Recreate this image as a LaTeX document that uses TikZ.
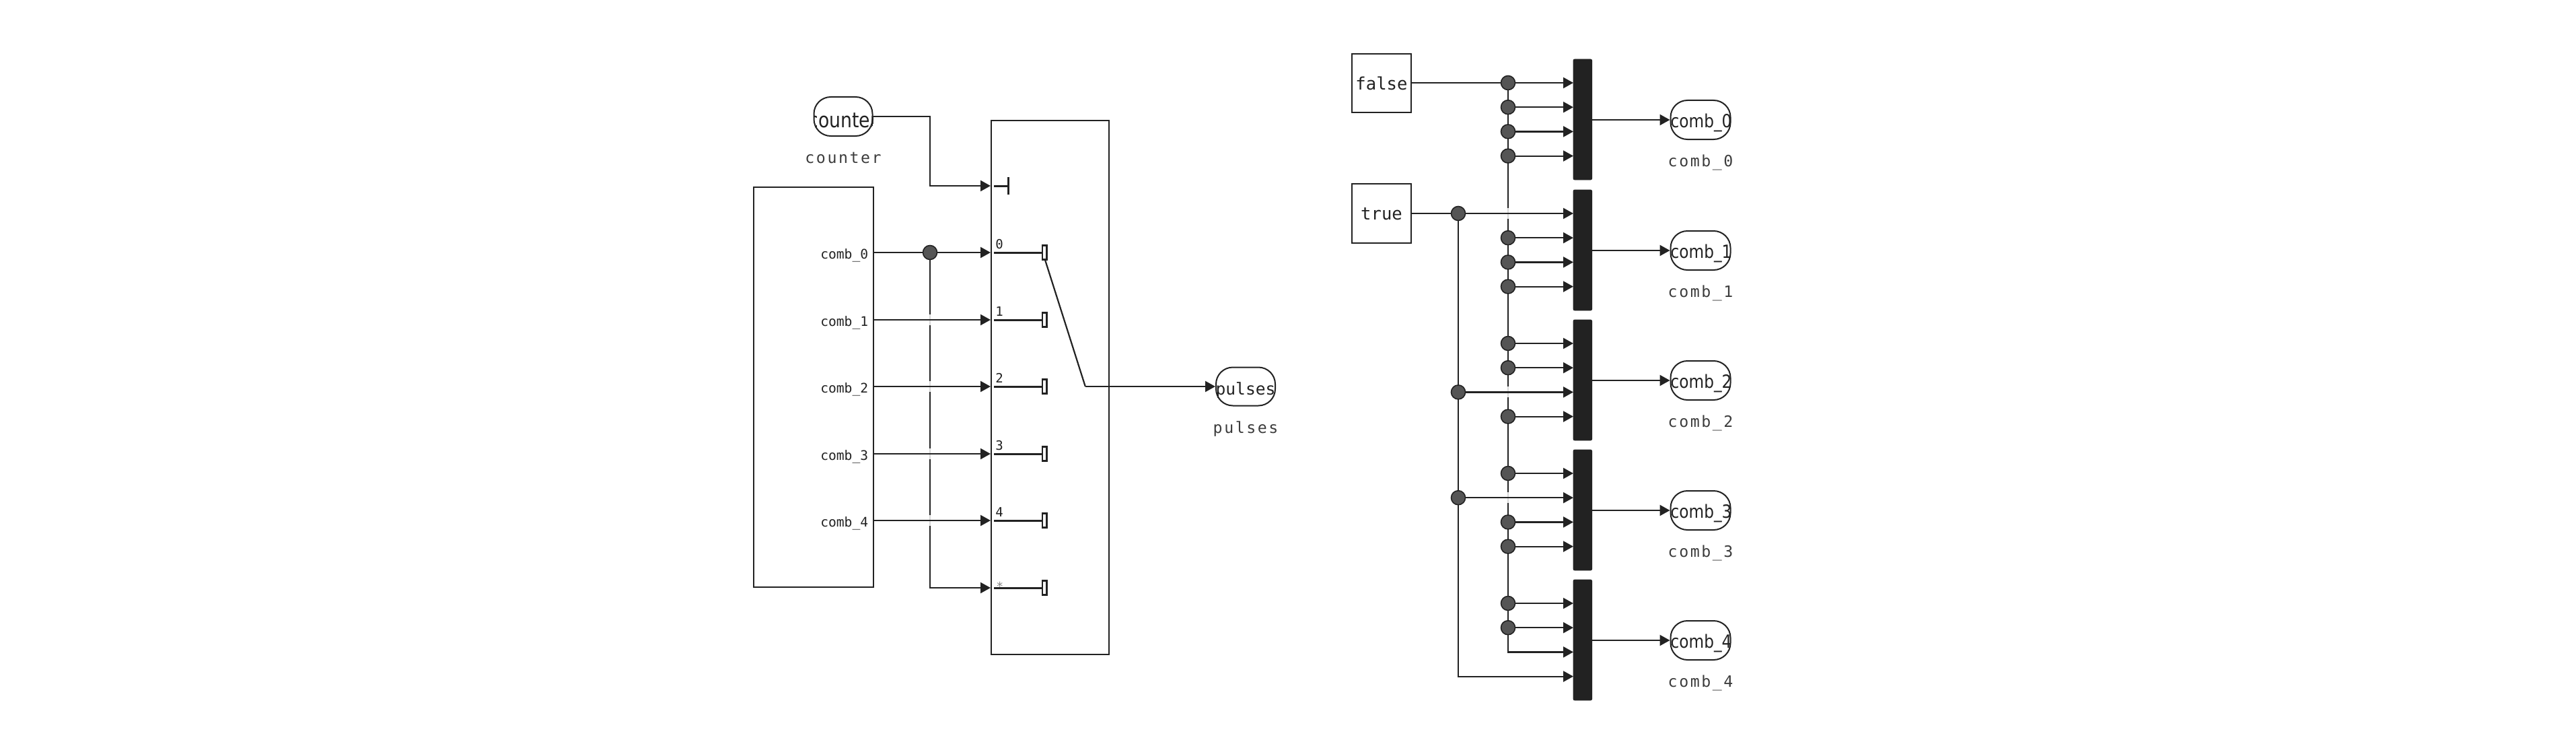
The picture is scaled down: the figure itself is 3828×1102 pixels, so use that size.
\documentclass[tikz,border=0pt]{standalone}
\usepackage{fontspec}
\setmonofont{DejaVu Sans Mono}
\newfontfamily\subfont[LetterSpace=11]{DejaVu Sans Mono}
\newfontfamily\condfont[FakeStretch=0.86]{DejaVu Sans}
\usetikzlibrary{arrows.meta}
\definecolor{ink}{HTML}{222222}
\definecolor{dotc}{HTML}{555555}
\definecolor{lab}{HTML}{3C3C3C}
\definecolor{hop}{HTML}{D8D8D8}
\begin{document}
\begin{tikzpicture}[x=0.5pt,y=-0.5pt,
  wire/.style={draw=ink, line width=1.1pt},
  arr/.style={wire, -{Triangle[length=7.5pt,width=8pt]}},
  blk/.style={draw=ink, line width=1pt, fill=white, inner sep=0},
  term/.style={draw=ink, line width=1pt, rounded corners=12.5pt, inner sep=0},
  jdot/.style={circle, fill=dotc, draw=ink, line width=0.8pt, minimum size=10.5pt, inner sep=0},
  muxbar/.style={fill=ink, draw=ink, rounded corners=1pt, minimum width=13.8pt, minimum height=89.5pt, inner sep=0},
  sublab/.style={font=\fontsize{11.6}{12}\subfont, text=lab, inner sep=0, anchor=base},
  portlab/.style={font=\fontsize{9.8}{10}\ttfamily, text=ink, inner sep=0},
  contact/.style={draw=ink, line width=1.5pt},
  constbox/.style={blk, minimum width=44pt, minimum height=43.75pt}
]
\useasboundingbox (0,0) rectangle (3828,1102);
\fill[white] (0,0) rectangle (3828,1102);

% ---------------- left part ----------------
\node[term, minimum width=43.5pt, minimum height=29pt] (tcounter) at (1253,173) {};
\begin{scope}
  \clip[rounded corners=12.5pt] (tcounter.south west) rectangle (tcounter.north east);
  \node[inner sep=0, anchor=base, font=\fontsize{15.5}{16}\condfont, text=ink] at (1253,190) {counter};
\end{scope}
\node[sublab] (lcounter) at (1253,242.5) {counter};

\node[blk, anchor=north west, minimum width=89pt, minimum height=297pt] (comb) at (1119,277) {};
\node[blk, anchor=north west, minimum width=87.25pt, minimum height=396.5pt] (sw) at (1472,178) {};

\coordinate (swctl) at (1472,276);
\coordinate (cbend) at (1382,173);
\draw[arr] (tcounter.east) -- (cbend) |- (swctl);
\draw[contact] (1477,276) -- (1498,276);
\draw[contact] (1498,263) -- (1498,289);

\foreach \i/\y in {0/375,1/475,2/574,3/674,4/773}{
  \coordinate (co\i) at (1297,\y);
  \coordinate (si\i) at (1472,\y);
  \node[portlab, anchor=base east] at (1290.5,\y+9) {comb\_\i};
}
\coordinate (sidef) at (1472,873);
\coordinate (j0) at (1382,375);

\draw[arr] (j0) |- (sidef);
\foreach \y in {475,574,674,773}{
  \draw[line width=1.2pt, hop] (1382,\y-8) -- (1382,\y+8);
}
\foreach \i in {0,...,4}{
  \draw[arr] (co\i) -- (si\i);
}
\node[jdot] at (j0) {};

% switch contacts
\foreach \lab/\y in {0/375,1/475,2/574,3/674,4/773}{
  \draw[contact] (1477,\y) -- (1549,\y);
  \draw[draw=ink, line width=1.1pt, fill=white] (1549,\y-10.5) rectangle (1555.5,\y+10.5);
  \node[portlab, anchor=base west, font=\fontsize{9.5}{10}\ttfamily] at (1479,\y-5.7) {\lab};
}
\draw[contact] (1477,873) -- (1549,873);
\draw[draw=ink, line width=1.1pt, fill=white] (1549,862.5) rectangle (1555.5,883.5);
\node[portlab, anchor=base west, font=\fontsize{9}{10}\ttfamily, text=ink!55!white] at (1480,877) {*};

\node[term, minimum width=44pt, minimum height=28.5pt] (tpulses) at (1851,574) {};
\begin{scope}
  \clip[rounded corners=12.5pt] (tpulses.south west) rectangle (tpulses.north east);
  \node[inner sep=0, anchor=base, font=\fontsize{12.3}{13}\ttfamily, text=ink] at (1851,586.5) {pulses};
\end{scope}
\node[sublab] (lpulses) at (1851,643) {pulses};

\coordinate (k0) at (1553,386);
\coordinate (sk) at (1612.8,574);
\draw[wire] (k0) -- (sk);
\draw[arr] (sk) -- (tpulses.west);

% ---------------- right part ----------------
\node[constbox] (cfalse) at (2053,123.5) {};
\node[inner sep=0, anchor=base, font=\fontsize{12.8}{13}\ttfamily, text=ink] at (2053,133.5) {false};
\node[constbox] (ctrue) at (2053,317) {};
\node[inner sep=0, anchor=base, font=\fontsize{12.8}{13}\ttfamily, text=ink] at (2053,326.5) {true};

\foreach \k/\T in {0/88,1/282,2/475,3/668,4/861}{
  \node[muxbar] (mux\k) at (2351.8,\T+89.5) {};
  \foreach \i in {0,...,3}{
    \coordinate (m\k i\i) at (2338,\T+35+36.2*\i);
  }
  \node[term, minimum width=44.5pt, minimum height=29pt] (oc\k) at (2527,\T+90) {};
  \begin{scope}
    \clip[rounded corners=12.5pt] (oc\k.south west) rectangle (oc\k.north east);
    \node[inner sep=0, anchor=base, font=\fontsize{13.5}{14}\condfont, text=ink] at (2528,\T+101) {comb\_\k};
  \end{scope}
  \draw[arr] (mux\k.east |- oc\k) -- (oc\k.west);
  \node[sublab] at (2527,\T+159) {comb\_\k};
}

\coordinate (fj) at (2241,123);
\coordinate (tj) at (2167,317);

% false column
\draw[wire] (cfalse.east |- fj) -- (fj);
\draw[arr] (fj) |- (m4i2);
% true column
\draw[wire] (ctrue.east |- tj) -- (tj);
\draw[arr] (tj) |- (m4i3);

% crossing hops on false column
\foreach \y in {317,582.4,739.2}{
  \draw[line width=1.2pt, hop] (2241,\y-8) -- (2241,\y+8);
}

% false inputs
\foreach \k/\i in {0/0,0/1,0/2,0/3,1/1,1/2,1/3,2/0,2/1,2/3,3/0,3/2,3/3,4/0,4/1}{
  \draw[arr] (fj |- m\k i\i) -- (m\k i\i);
  \node[jdot] at (fj |- m\k i\i) {};
}
% true inputs
\foreach \k/\i in {1/0,2/2,3/1}{
  \draw[arr] (tj |- m\k i\i) -- (m\k i\i);
  \node[jdot] at (tj |- m\k i\i) {};
}
\end{tikzpicture}
\end{document}
